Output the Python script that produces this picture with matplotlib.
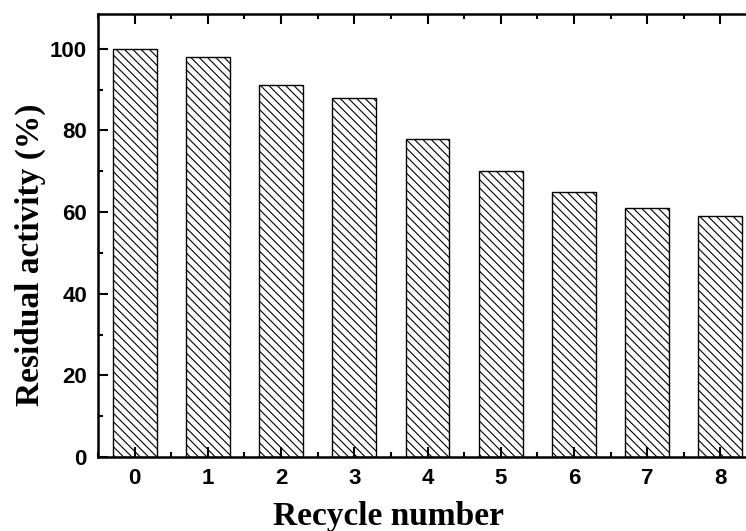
import numpy as np
import matplotlib.pyplot as plt

cycles = [0, 1, 2, 3, 4, 5, 6, 7, 8]
activity = [100, 98, 91, 88, 78, 70, 65, 61, 59]
yticks = [0, 20, 40, 60, 80, 100]

plt.rcParams['hatch.linewidth'] = 0.8
fig = plt.figure(figsize=(7.46, 5.31), dpi=100)
# right part of the frame runs past the image edge, like the original crop
ax = fig.add_axes([98/746, 74/531, 659/746, 443/531])

ax.bar(cycles, activity, width=0.6, color='white', edgecolor='black',
       linewidth=1.0, hatch='\\\\\\\\')

ax.set_xlim(-0.5, 8.5)
ax.set_ylim(0, 108.5)
ax.set_xticks(cycles)
ax.set_xticks(np.arange(-0.5, 8.6, 1), minor=True)
ax.set_yticks(yticks)
ax.set_yticks(np.arange(10, 101, 20), minor=True)

for s in ax.spines.values():
    s.set_linewidth(1.8)

ax.tick_params(which='both', direction='in', top=True, right=True, width=1.5)
ax.tick_params(which='major', length=7, labelsize=16, pad=8)
ax.tick_params(which='minor', length=3.5)
for lab in ax.get_xticklabels() + ax.get_yticklabels():
    lab.set_fontfamily('Liberation Sans')
    lab.set_fontweight('bold')

ax.set_xlabel('Recycle number', fontfamily='Liberation Serif', fontweight='bold',
              fontsize=24)
ax.xaxis.set_label_coords((388 - 98) / 659, -0.100)
ax.set_ylabel('Residual activity (%)', fontfamily='Liberation Serif', fontweight='bold',
              fontsize=24)
ax.yaxis.set_label_coords((46 - 98) / 659, (457 - 255) / 443)

fig.savefig('out.png', dpi=100)
